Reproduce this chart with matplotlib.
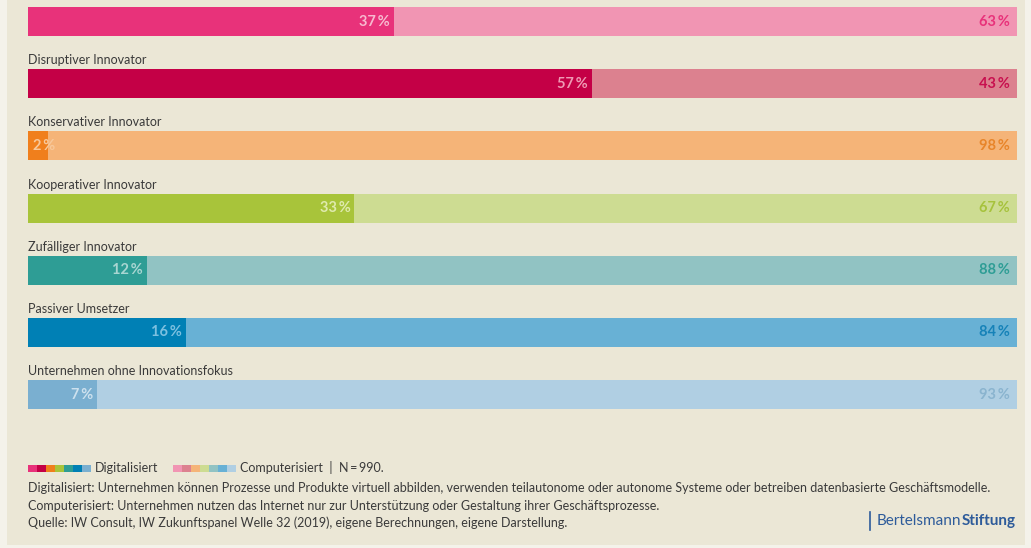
import matplotlib
matplotlib.use("Agg")
import numpy as np
import matplotlib.pyplot as plt
from matplotlib.patches import Rectangle

# Data
categories = ["", "Disruptiver Innovator", "Konservativer Innovator",
              "Kooperativer Innovator", "Zufälliger Innovator",
              "Passiver Umsetzer", "Unternehmen ohne Innovationsfokus"]
digitalisiert = [37, 57, 2, 33, 12, 16, 7]
computerisiert = [63, 43, 98, 67, 88, 84, 93]

dark_colors = ["#e8327a", "#c40046", "#f07f1c", "#a8c43a", "#2e9d95", "#0080b5", "#7aafd0"]
light_colors = ["#f195b3", "#dc818f", "#f5b478", "#cddc92", "#91c3c3", "#68b1d5", "#b0cfe3"]
right_text_colors = ["#e8327a", "#c8104f", "#e8852a", "#a6c23c", "#2e9d95", "#1682b8", "#8ab4cf"]
left_text_colors = ["#f7b9cf", "#ef9ab4", "#f8c89a", "#dfeaae", "#a9d6d2", "#7cc0e0", "#cde1ee"]

footnotes = [
    "Digitalisiert: Unternehmen können Prozesse und Produkte virtuell abbilden, verwenden teilautonome oder autonome Systeme oder betreiben datenbasierte Geschäftsmodelle.",
    "Computerisiert: Unternehmen nutzen das Internet nur zur Unterstützung oder Gestaltung ihrer Geschäftsprozesse.",
    "Quelle: IW Consult, IW Zukunftspanel Welle 32 (2019), eigene Berechnungen, eigene Darstellung.",
]

W, H = 1031, 548
BG = "#ebe7d6"
FONT = ["Lato", "DejaVu Sans"]
TEXT = "#3a3a3a"
FS = 9.0

fig = plt.figure(figsize=(W / 100, H / 100), dpi=100, facecolor="#f4f2ea")


def fx(x):
    return x / W


def fy(y):
    return 1 - y / H


# beige panel
fig.add_artist(Rectangle((fx(7), fy(545)), fx(1025) - fx(7), fy(0) - fy(545),
                         transform=fig.transFigure, facecolor=BG, edgecolor="none", zorder=0))

# bar axes
ax_left, ax_right = 28, 1017
ax_top, ax_bottom = 0, 430
ax = fig.add_axes([fx(ax_left), fy(ax_bottom), fx(ax_right) - fx(ax_left), fy(ax_top) - fy(ax_bottom)])
ax.set_facecolor("none")
for s in ax.spines.values():
    s.set_visible(False)
ax.set_xticks([])
ax.set_yticks([])

step = 62.2
y0 = 21.5
ax.set_xlim(0, 100)
ax.set_ylim((ax_bottom - y0) / step, -y0 / step)

idx = np.arange(len(categories))
bar_h = 29 / step
ax.barh(idx, digitalisiert, height=bar_h, color=dark_colors, edgecolor="none")
ax.barh(idx, computerisiert, left=digitalisiert, height=bar_h, color=light_colors, edgecolor="none")

for i, (name, d, c) in enumerate(zip(categories, digitalisiert, computerisiert)):
    if name:
        ax.text(0, i - 23.5 / step, name, ha="left", va="center", fontsize=FS,
                color=TEXT, family=FONT)
    if d < 5:
        ax.text(0.5, i, f"{d}\u2009%", ha="left", va="center", fontsize=10.5,
                fontweight="bold", color=left_text_colors[i], family=FONT)
    else:
        ax.text(d - 0.4, i, f"{d}\u2009%", ha="right", va="center", fontsize=10.5,
                fontweight="bold", color=left_text_colors[i], family=FONT)
    ax.text(100 - 0.7, i, f"{c}\u2009%", ha="right", va="center", fontsize=10.5,
            fontweight="bold", color=right_text_colors[i], family=FONT)

# legend swatches
sw_w, sw_h = 9, 7
ly = 468
for k, col in enumerate(dark_colors):
    fig.add_artist(Rectangle((fx(28 + k * sw_w), fy(ly + sw_h / 2)), fx(sw_w), sw_h / H,
                             transform=fig.transFigure, facecolor=col, edgecolor="none"))
fig.text(fx(95), fy(ly), "Digitalisiert", ha="left", va="center", fontsize=FS,
         color=TEXT, family=FONT)
for k, col in enumerate(light_colors):
    fig.add_artist(Rectangle((fx(173 + k * sw_w), fy(ly + sw_h / 2)), fx(sw_w), sw_h / H,
                             transform=fig.transFigure, facecolor=col, edgecolor="none"))
fig.text(fx(240), fy(ly), "Computerisiert  |  N\u2009=\u2009990.", ha="left", va="center",
         fontsize=FS, color=TEXT, family=FONT)

for k, line in enumerate(footnotes):
    fig.text(fx(28), fy(488 + k * 17.5), line, ha="left", va="center", fontsize=FS,
             color=TEXT, family=FONT)

# logo
LOGO = "#2d5b9a"
fig.add_artist(plt.Line2D([fx(870), fx(870)], [fy(512), fy(530)], transform=fig.transFigure,
                          color=LOGO, lw=1.2))
t1 = fig.text(fx(877), fy(521), "Bertelsmann", ha="left", va="center", fontsize=11,
              color=LOGO, family=FONT)
fig.canvas.draw()
bb = t1.get_window_extent()
fig.text(bb.x1 / W, fy(521), "Stiftung", ha="left", va="center", fontsize=11,
         fontweight="bold", color=LOGO, family=FONT)

fig.savefig("out.png", dpi=100, facecolor=fig.get_facecolor())
